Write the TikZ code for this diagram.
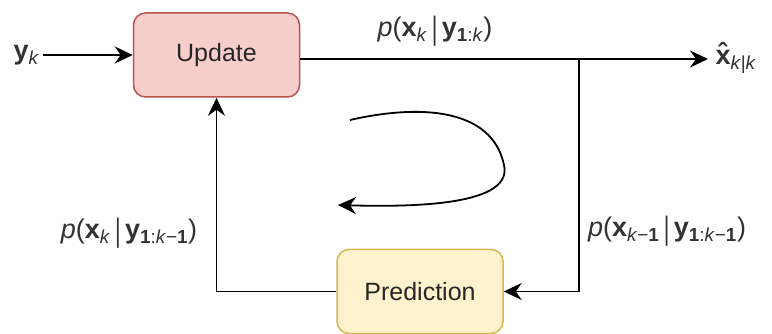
\documentclass[tikz,border=0pt]{standalone}
\usepackage{fontspec}
\setmainfont{Liberation Sans}
\usetikzlibrary{calc,arrows.meta,positioning}
\newcommand{\bx}{\textbf{x}}
\newcommand{\by}{\textbf{y}}
\newcommand{\lo}[1]{\textsubscript{#1}}
\newcommand{\given}{\,\raisebox{-0.12em}{\scalebox{0.8}[1.2]{|}}\,}
\newcommand{\hatx}{\leavevmode\hbox{\ooalign{\bx\cr\hidewidth\raisebox{0.06em}{\textbf{\char"02C6}}\hidewidth\cr}}}
\tikzset{
  block/.style={draw, line width=1.5pt, rounded corners=12pt, minimum width=166pt, minimum height=84pt, font=\fontsize{25}{30}\selectfont, text=black!85},
  flow/.style={line width=1.8pt, -{Stealth[length=18pt,width=17pt,inset=6pt]}},
  lbl/.style={font=\fontsize{27}{32}\selectfont, text=black!80},
}
\begin{document}
\begin{tikzpicture}[x=1pt,y=-1pt]
			%%%%% START %%%%%
			\useasboundingbox (0,0) rectangle (772,334);
			
			\node[block, fill={rgb,255:red,248;green,206;blue,204}, draw={rgb,255:red,184;green,84;blue,80}] (update) at (216.5,55) {Update};
			\node[block, fill={rgb,255:red,255;green,242;blue,204}, draw={rgb,255:red,214;green,182;blue,86}] (pred) at (420,291.5) {Prediction};
			
			\node[lbl, anchor=east] (yk) at (43,55) {\by\lo{\textit{k}}};
			\node[lbl, anchor=west] (xhat) at (712,62) {\hatx\lo{\textit{k}|\textit{k}}};
			\coordinate (out) at (708,59);
			\coordinate (split) at (579,59);
			
			\draw[flow] (yk) -- (update);
			\draw[flow] (update.east |- out) -- (out);
			\draw[flow] (split) |- (pred);
			\draw[flow] (pred) -| (update);
			
			\node[lbl] (post) at (435,31) {\textit{p}(\bx\lo{\textit{k}}\given\by\lo{\textbf{1}:\textit{k}})};
			\node[lbl] (prior) at (129,233) {\textit{p}(\bx\lo{\textit{k}}\given\by\lo{\textbf{1}:\textit{k}−\textbf{1}})};
			\node[lbl] (last) at (667,231) {\textit{p}(\bx\lo{\textit{k}−\textbf{1}}\given\by\lo{\textbf{1}:\textit{k}−\textbf{1}})};
			
			% loop sign
			\draw[flow] (350,120) .. controls (420,104) and (492,108) .. (504,165) .. controls (512,200) and (440,208) .. (338,205);
			
			%%%%% END %%%%%
\end{tikzpicture}
\end{document}
